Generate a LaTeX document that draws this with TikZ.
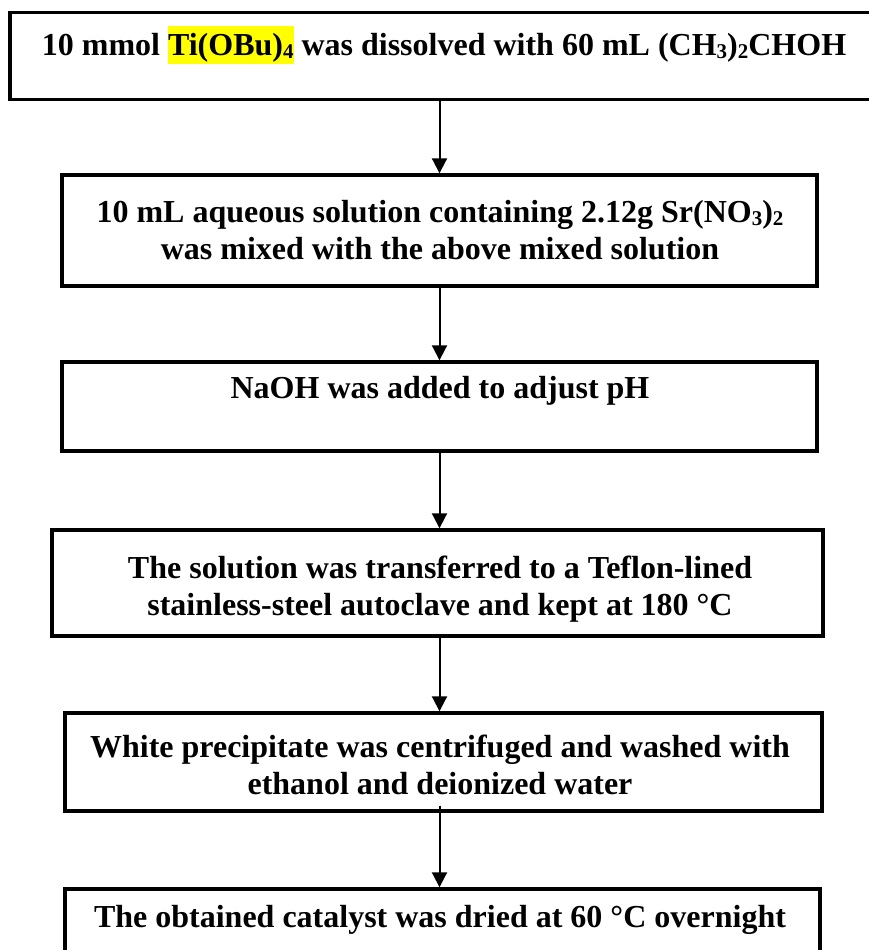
\documentclass[tikz,border=0pt]{standalone}
\usepackage{fontspec}
\setmainfont{Liberation Serif}
\usetikzlibrary{arrows.meta}
\definecolor{hlyellow}{RGB}{255,255,0}
\newcommand\hlmark[1]{{\setlength\fboxsep{0pt}\colorbox{hlyellow}{\rule[-8pt]{0pt}{38pt}#1}}}
\newcommand\lowsub[1]{\raisebox{-3pt}{\fontsize{21}{21}\selectfont #1}}
\begin{document}
\begin{tikzpicture}[x=1pt,y=-1pt,
  stepbox/.style={draw, line width=3.4pt, inner sep=0pt},
  steptext/.style={font=\fontsize{32}{37.5}\selectfont\bfseries, align=center, inner sep=0pt},
  flow/.style={-{Triangle[length=15pt,width=15pt]}, line width=2pt}]
\useasboundingbox (0,0) rectangle (868,950);
\node[stepbox, minimum width=880pt, minimum height=87pt] (b1) at (450,56) {};
\node[stepbox, minimum width=755pt, minimum height=111pt] (b2) at (439.5,230.5) {};
\node[stepbox, minimum width=755pt, minimum height=89pt] (b3) at (439.5,406.5) {};
\node[stepbox, minimum width=771pt, minimum height=106pt] (b4) at (437.5,583) {};
\node[stepbox, minimum width=757pt, minimum height=98pt] (b5) at (443.5,762) {};
\node[stepbox, minimum width=755pt, minimum height=82pt] (b6) at (442.5,930) {};

\node[steptext] (t1) at (444,45) {10 mmol \hlmark{Ti(OBu)\lowsub{4}} was dissolved with 60 mL (CH\lowsub{3})\lowsub{2}CHOH};
\node[steptext] (t2) at (440,230) {10 mL aqueous solution containing 2.12g Sr(NO\lowsub{3})\lowsub{2}\\was mixed with the above mixed solution};
\node[steptext] (t3) at (440,391) {NaOH was added to adjust pH};
\node[steptext] (t4) at (440,589) {The solution was transferred to a Teflon-lined\\stainless-steel autoclave and kept at 180 °C};
\node[steptext] (t5) at (440,765) {White precipitate was centrifuged and washed with\\ethanol and deionized water};
\node[steptext] (t6) at (440,920) {The obtained catalyst was dried at 60 °C overnight};

\draw[flow] (b2.north |- b1.south) -- (b2.north);
\draw[flow] (b2.south) -- (b3.north);
\draw[flow] (b3.south) -- (b3.south |- b4.north);
\draw[flow] (b3.south |- b4.south) -- (b3.south |- b5.north);
\draw[flow] ([yshift=7pt]b3.south |- b5.south) -- (b3.south |- b6.north);
\end{tikzpicture}
\end{document}
